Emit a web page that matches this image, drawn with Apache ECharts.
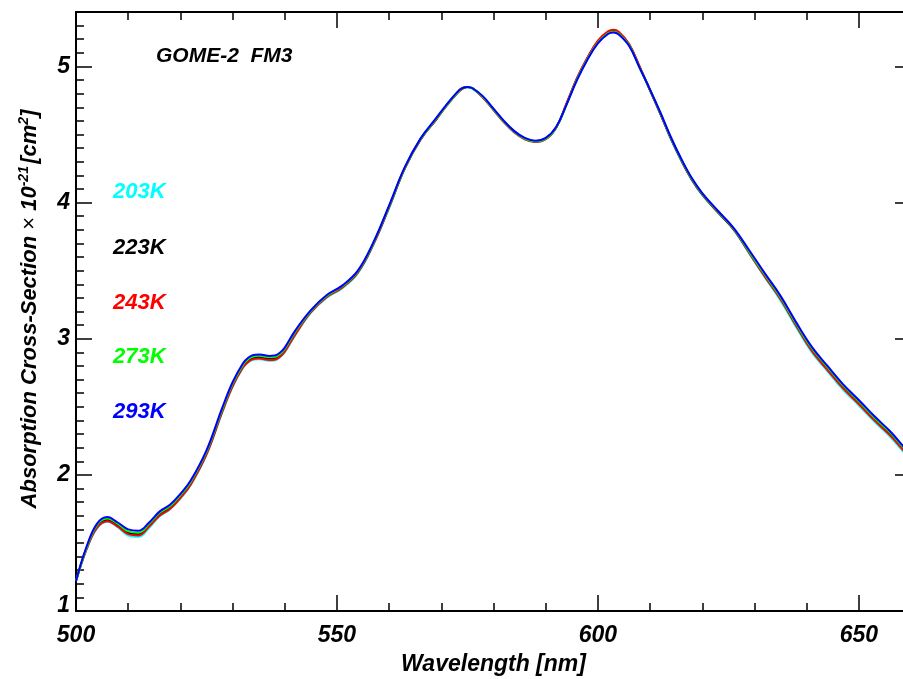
<!DOCTYPE html>
<html>
<head>
<meta charset="utf-8">
<title>GOME-2 FM3 absorption cross-section</title>
<script src="https://cdn.jsdelivr.net/npm/echarts@6/dist/echarts.min.js"></script>
<style>
  html, body { margin: 0; padding: 0; background: #fff; overflow: hidden; }
  body { width: 903px; height: 679px; }
  /* canvas runs a little past the right edge so the right frame sits just outside the view */
  #chart { width: 920px; height: 679px; }
</style>
</head>
<body>
<div id="chart"></div>
<script>
// Wavelength grid [nm]
const wavelength = [
  500, 502, 504, 506, 508, 510, 512, 514, 516, 518,
  520, 522, 525, 528, 530, 532, 533, 534, 535, 536,
  537, 538, 539, 540, 542, 545, 548, 551, 554, 557,
  560, 563, 566, 569, 571, 573, 574, 575, 576, 578,
  580, 582, 584, 586, 588, 590, 592, 594, 596, 598,
  600, 602, 603, 604, 606, 608, 610, 612, 614, 616,
  618, 620, 623, 626, 629, 632, 635, 638, 641, 644,
  647, 650, 653, 656, 659, 660];

// Absorption cross-section (x 1e-21 cm^2) per temperature
const xs203K = [
  1.22, 1.45, 1.605, 1.655, 1.615, 1.555, 1.545, 1.61, 1.695, 1.745,
  1.825, 1.925, 2.145, 2.455, 2.645, 2.785, 2.825, 2.845, 2.85, 2.845,
  2.838, 2.84, 2.86, 2.90, 3.025, 3.19, 3.30, 3.37, 3.48, 3.69,
  3.96, 4.25, 4.46, 4.61, 4.71, 4.80, 4.835, 4.845, 4.835, 4.77,
  4.68, 4.59, 4.515, 4.465, 4.445, 4.465, 4.55, 4.725, 4.91, 5.06,
  5.185, 5.255, 5.265, 5.25, 5.16, 4.995, 4.825, 4.65, 4.465, 4.305,
  4.165, 4.055, 3.925, 3.80, 3.625, 3.45, 3.28, 3.085, 2.90, 2.76,
  2.625, 2.51, 2.39, 2.28, 2.15, 2.11];
const xs223K = [
  1.22, 1.46, 1.62, 1.67, 1.63, 1.575, 1.565, 1.63, 1.71, 1.76,
  1.84, 1.94, 2.16, 2.47, 2.66, 2.80, 2.84, 2.86, 2.865, 2.86,
  2.854, 2.856, 2.875, 2.915, 3.04, 3.20, 3.31, 3.38, 3.49, 3.70,
  3.97, 4.255, 4.465, 4.61, 4.715, 4.805, 4.84, 4.85, 4.84, 4.775,
  4.685, 4.595, 4.52, 4.47, 4.45, 4.47, 4.55, 4.725, 4.91, 5.06,
  5.18, 5.25, 5.26, 5.245, 5.16, 4.995, 4.825, 4.65, 4.47, 4.31,
  4.17, 4.06, 3.93, 3.805, 3.635, 3.465, 3.30, 3.10, 2.92, 2.78,
  2.645, 2.53, 2.41, 2.30, 2.17, 2.13];
const xs243K = [
  1.22, 1.45, 1.61, 1.66, 1.62, 1.565, 1.555, 1.62, 1.70, 1.75,
  1.83, 1.93, 2.15, 2.46, 2.65, 2.79, 2.83, 2.85, 2.855, 2.85,
  2.844, 2.846, 2.865, 2.905, 3.03, 3.195, 3.305, 3.375, 3.485, 3.695,
  3.965, 4.25, 4.46, 4.61, 4.71, 4.80, 4.835, 4.85, 4.84, 4.77,
  4.68, 4.59, 4.515, 4.465, 4.445, 4.465, 4.55, 4.73, 4.915, 5.065,
  5.19, 5.26, 5.27, 5.255, 5.165, 5.00, 4.825, 4.65, 4.47, 4.31,
  4.17, 4.06, 3.93, 3.805, 3.63, 3.455, 3.29, 3.095, 2.91, 2.77,
  2.635, 2.52, 2.40, 2.29, 2.16, 2.12];
const xs273K = [
  1.22, 1.46, 1.63, 1.68, 1.64, 1.585, 1.575, 1.64, 1.72, 1.77,
  1.85, 1.95, 2.17, 2.48, 2.67, 2.81, 2.85, 2.87, 2.875, 2.87,
  2.864, 2.866, 2.885, 2.925, 3.05, 3.205, 3.315, 3.385, 3.495, 3.705,
  3.975, 4.255, 4.465, 4.615, 4.715, 4.805, 4.84, 4.85, 4.84, 4.775,
  4.685, 4.595, 4.52, 4.47, 4.45, 4.47, 4.55, 4.72, 4.905, 5.055,
  5.175, 5.245, 5.255, 5.24, 5.155, 4.99, 4.83, 4.655, 4.475, 4.315,
  4.175, 4.065, 3.935, 3.81, 3.64, 3.47, 3.305, 3.11, 2.93, 2.79,
  2.655, 2.54, 2.42, 2.31, 2.18, 2.14];
const xs293K = [
  1.22, 1.47, 1.64, 1.69, 1.65, 1.60, 1.59, 1.65, 1.73, 1.78,
  1.86, 1.96, 2.18, 2.49, 2.68, 2.82, 2.86, 2.88, 2.885, 2.88,
  2.874, 2.876, 2.895, 2.935, 3.06, 3.21, 3.32, 3.39, 3.50, 3.71,
  3.98, 4.26, 4.47, 4.62, 4.72, 4.81, 4.84, 4.85, 4.84, 4.78,
  4.69, 4.60, 4.525, 4.475, 4.455, 4.475, 4.555, 4.72, 4.90, 5.05,
  5.17, 5.24, 5.25, 5.235, 5.15, 4.99, 4.83, 4.66, 4.48, 4.32,
  4.18, 4.07, 3.94, 3.815, 3.65, 3.48, 3.315, 3.12, 2.94, 2.80,
  2.665, 2.55, 2.43, 2.32, 2.19, 2.15];

const tempLabels = ['203K', '223K', '243K', '273K', '293K'];
const tempColors = ['#00ffff', '#000000', '#ff0000', '#00ff00', '#0000ff'];
const tempSeries = [xs203K, xs223K, xs243K, xs273K, xs293K];

const FONT = '"Liberation Sans", Arial, Helvetica, sans-serif';

const chart = echarts.init(document.getElementById('chart'), null, { renderer: 'canvas' });

const tickInside = (len) => ({ show: true, inside: true, length: len, lineStyle: { color: '#000', width: 1.5 } });
const minorInside = (n) => ({ show: true, splitNumber: n, length: 8, lineStyle: { color: '#000', width: 1.5 } });
const axisLine = { show: true, onZero: false, lineStyle: { color: '#000', width: 2 } };

// one curve per temperature, the warmest drawn last
const series = tempSeries.map((vals, i) => ({
  type: 'line',
  name: tempLabels[i],
  data: wavelength.map((w, k) => [w, vals[k]]),
  smooth: 0.4,
  showSymbol: false,
  symbol: 'none',
  lineStyle: { color: tempColors[i], width: 2 },
  itemStyle: { color: tempColors[i] },
  animation: false,
  z: 2 + i
}));

// temperature key, stacked in a column
const tempTextY = [192, 248, 303, 357, 412];
const tempTexts = tempLabels.map((t, i) => ({
  type: 'text',
  left: 113,
  top: tempTextY[i] - 11,
  style: {
    text: t,
    fill: tempColors[i],
    font: 'italic bold 22px ' + FONT
  }
}));

const labelFont = { color: '#000', fontFamily: FONT, fontSize: 23, fontWeight: 'bold', fontStyle: 'italic' };

const option = {
  backgroundColor: '#fff',
  animation: false,
  grid: { left: 76, right: 9, top: 12, bottom: 68, containLabel: false, outerBoundsMode: 'none' },
  xAxis: [
    {
      type: 'value', position: 'bottom', min: 500, max: 660, interval: 50,
      axisLine: axisLine,
      axisTick: tickInside(16),
      minorTick: minorInside(5),
      splitLine: { show: false },
      axisLabel: Object.assign({ margin: 13, showMaxLabel: false }, labelFont),
      name: 'Wavelength [nm]',
      nameLocation: 'middle',
      nameGap: 42,
      nameTextStyle: Object.assign({ padding: [0, 0, 0, 0] }, labelFont)
    },
    {
      type: 'value', position: 'top', min: 500, max: 660, interval: 50,
      axisLine: axisLine,
      axisTick: tickInside(16),
      minorTick: minorInside(5),
      splitLine: { show: false },
      axisLabel: { show: false }
    }
  ],
  yAxis: [
    {
      type: 'value', position: 'left', min: 1, max: 5.4, interval: 1,
      axisLine: axisLine,
      axisTick: tickInside(16),
      minorTick: minorInside(10),
      splitLine: { show: false },
      axisLabel: Object.assign({
        margin: 6,
        showMaxLabel: false,
        formatter: v => v === 1 ? '{lo|1}' : String(v),
        rich: {
          lo: Object.assign({ padding: [0, 0, 10, 0] }, labelFont)
        }
      }, labelFont)
    },
    {
      type: 'value', position: 'right', min: 1, max: 5.4, interval: 1,
      axisLine: axisLine,
      axisTick: tickInside(16),
      minorTick: minorInside(10),
      splitLine: { show: false },
      axisLabel: { show: false }
    }
  ],
  series: series,
  graphic: [
    {
      type: 'text',
      left: 156,
      top: 46,
      style: {
        text: 'GOME-2  FM3',
        fill: '#000',
        font: 'italic bold 21px ' + FONT
      }
    },
    ...tempTexts,
    {
      type: 'text',
      x: 30,
      y: 309,
      rotation: Math.PI / 2,
      style: {
        text: 'Absorption Cross-Section {x|×} 10{sup|-21}{sp| }[cm{sup|2}]',
        fill: '#000',
        font: 'italic bold 22px ' + FONT,
        align: 'center',
        verticalAlign: 'middle',
        rich: {
          x: { fontFamily: FONT, fontSize: 22, fontWeight: 'normal', fontStyle: 'normal', fill: '#000' },
          sup: { fontFamily: FONT, fontSize: 14, fontWeight: 'bold', fontStyle: 'italic', fill: '#000', verticalAlign: 'top', lineHeight: 26, padding: [0, 0, 10, 0] },
          sp: { fontSize: 8 }
        }
      }
    }
  ]
};

chart.setOption(option);
</script>
</body>
</html>
